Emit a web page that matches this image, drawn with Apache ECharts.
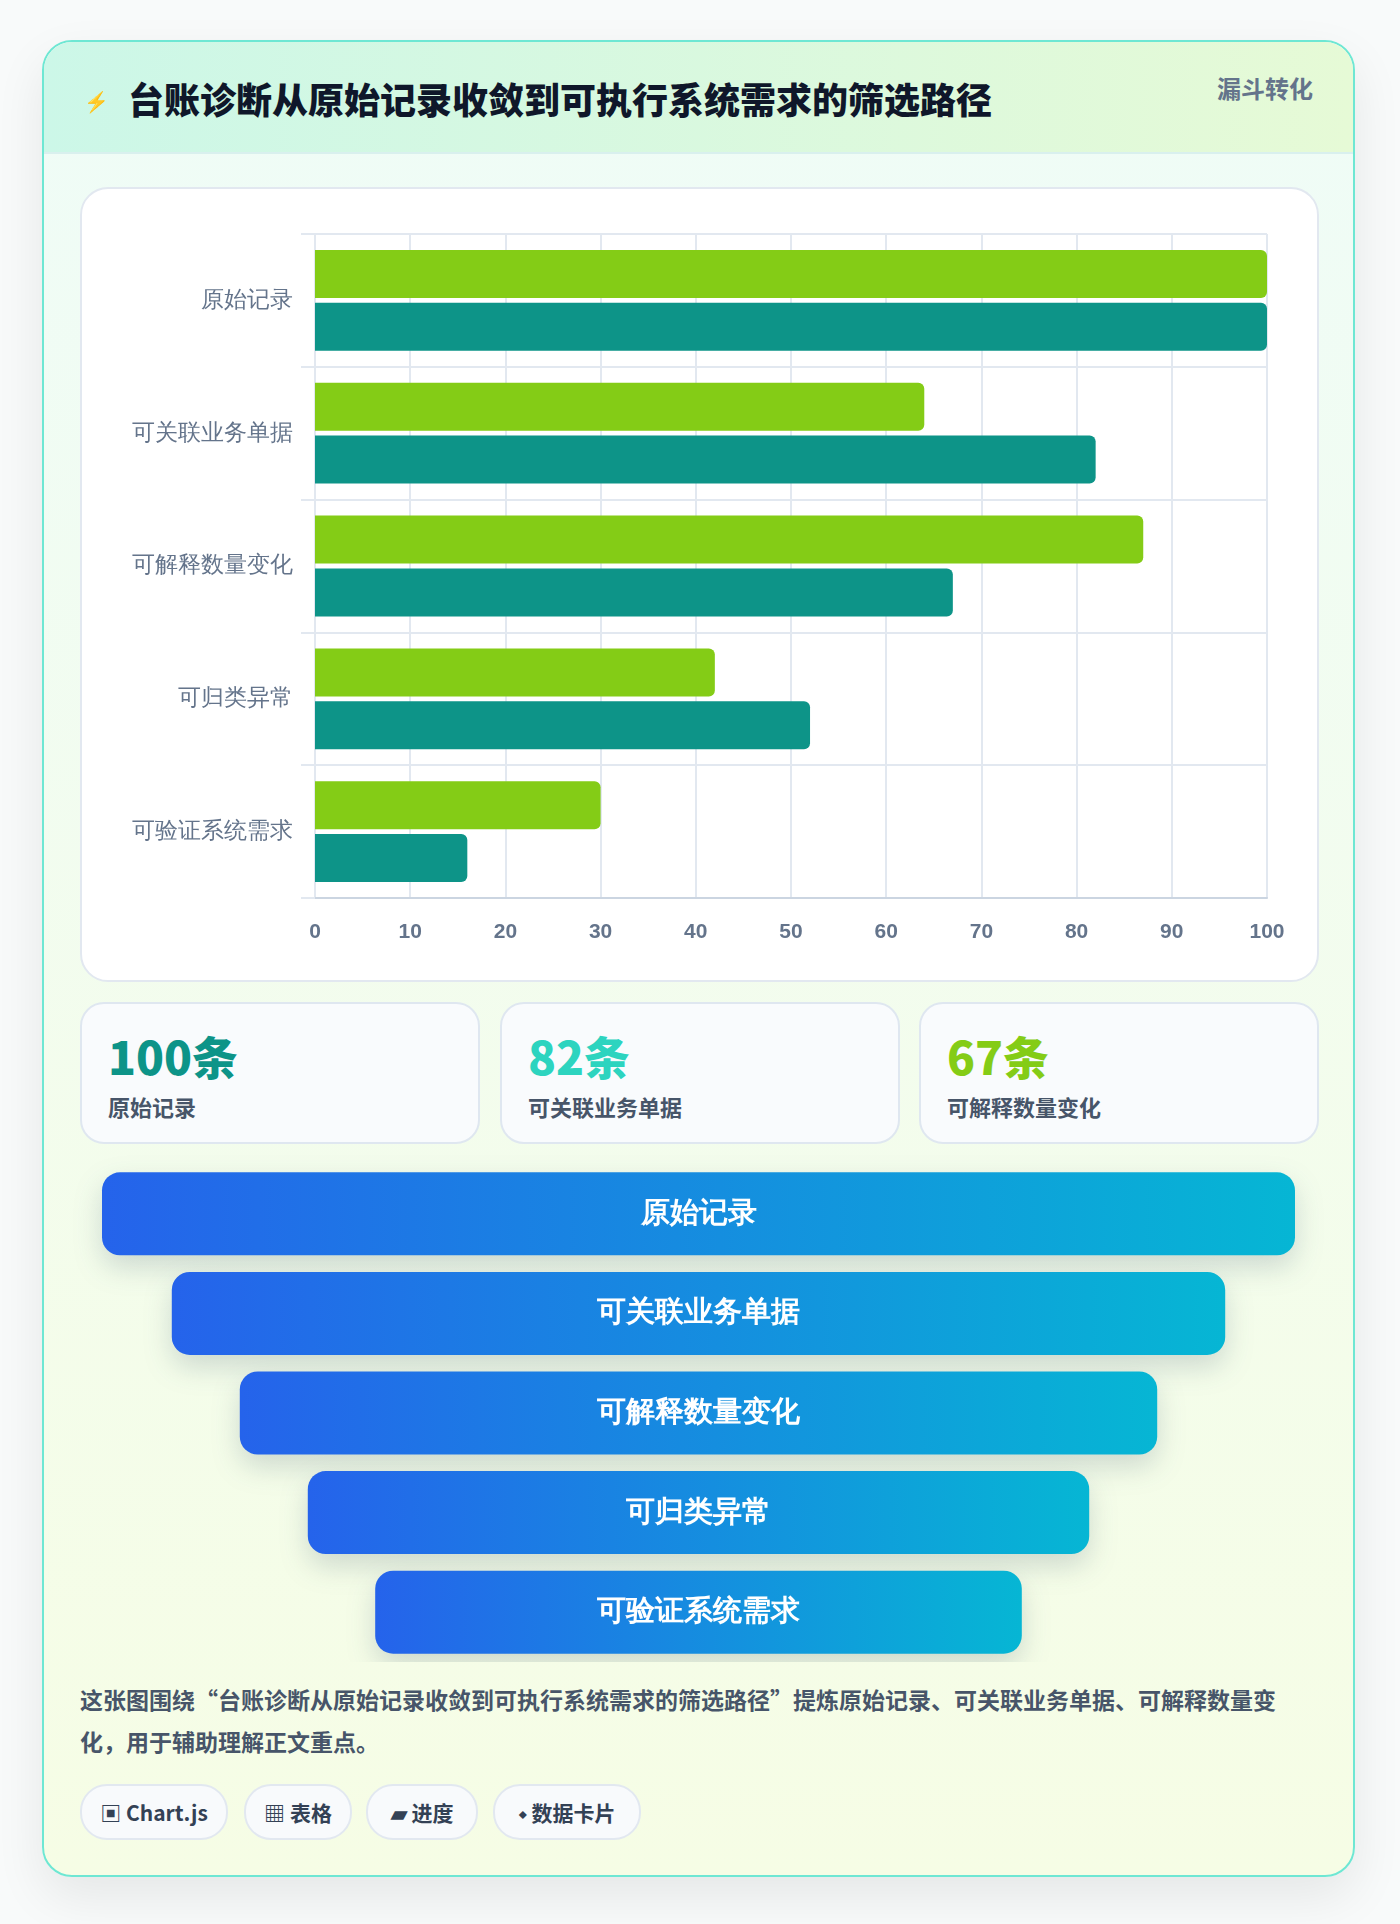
<!DOCTYPE html>
<html><head><meta charset="utf-8">
<script src="https://cdn.jsdelivr.net/npm/echarts@6/dist/echarts.min.js"></script>
<style>
body{margin:0;width:1400px;height:1924px;background:#f8fafa;font-family:"Noto Sans CJK SC","Noto Sans",sans-serif;position:relative}
.card{position:absolute;left:42px;top:40px;width:1309px;height:1833px;border:2px solid #6ee7d3;border-radius:30px;background:linear-gradient(180deg,#effcf7,#f6fde5);box-shadow:0 20px 50px rgba(0,0,0,.08);overflow:hidden}
.head{height:110px;background:linear-gradient(90deg,#ccf7e8,#e6fad6);border-bottom:2px solid #d9f0ee;position:relative}
.head .t{position:absolute;left:84px;top:30px;font-size:36px;font-weight:900;color:#0f172a}
.head .ic{position:absolute;left:40px;top:44px;color:#2563eb;font-size:20px}
.head .r{position:absolute;right:40px;top:28px;font-size:24px;font-weight:700;color:#64748b}
.panel{position:absolute;left:36px;top:145px;width:1235px;height:791px;background:#fff;border:2px solid #e2e8f0;border-radius:28px}
.stat{position:absolute;top:960px;height:138px;width:396px;border:2px solid #dfe7f0;border-radius:24px;background:#f9fbfd}
.stat b{position:absolute;left:26px;top:18px;font-size:46px;font-weight:900}
.stat span{position:absolute;left:26px;top:86px;font-size:22px;font-weight:700;color:#475569}
.desc{position:absolute;left:36px;top:1636px;width:1240px;font-size:23px;line-height:42px;font-weight:700;color:#475569}
.tag{position:absolute;top:1742px;height:52px;border:2px solid #e2e8f0;border-radius:27px;background:#f8fafc;font-size:21px;font-weight:700;color:#334155;line-height:52px;text-align:center}
</style></head><body>
<div class="card">
<div class="head"><span class="ic">⚡</span><div class="t">台账诊断从原始记录收敛到可执行系统需求的筛选路径</div><div class="r">漏斗转化</div></div>
<div class="panel"><div id="c1" style="width:1235px;height:791px"></div></div>
<div class="stat" style="left:36px"><b style="color:#0d9488">100条</b><span>原始记录</span></div>
<div class="stat" style="left:456px"><b style="color:#2dd4bf">82条</b><span>可关联业务单据</span></div>
<div class="stat" style="left:875px"><b style="color:#84cc16">67条</b><span>可解释数量变化</span></div>
<div id="c2" style="position:absolute;left:0;top:1110px;width:1309px;height:510px"></div>
<div class="desc">这张图围绕“台账诊断从原始记录收敛到可执行系统需求的筛选路径”提炼原始记录、可关联业务单据、可解释数量变化，用于辅助理解正文重点。</div>
<div class="tag" style="left:36px;width:144px">▣ Chart.js</div>
<div class="tag" style="left:200px;width:104px">▦ 表格</div>
<div class="tag" style="left:322px;width:108px">▰ 进度</div>
<div class="tag" style="left:449px;width:144px">⬩ 数据卡片</div>
</div>
<script>
var categories = ['原始记录','可关联业务单据','可解释数量变化','可归类异常','可验证系统需求'];
var limeValues = [100, 64, 87, 42, 30];
var tealValues = [100, 82, 67, 52, 16];
var xTicks = [0,10,20,30,40,50,60,70,80,90,100];
var funnelWidths = [100, 88.3, 76.9, 65.5, 54.2];

var c1 = echarts.init(document.getElementById('c1'));
c1.setOption({
  animation:false,
  grid:{left:233,right:50,top:45,bottom:82},
  xAxis:{type:'value',min:0,max:100,interval:10,
    axisLine:{show:true,lineStyle:{color:'#cbd5e1',width:2}},
    axisTick:{show:false},
    axisLabel:{color:'#64748b',fontSize:21,fontWeight:'bold',margin:24},
    splitLine:{lineStyle:{color:'#e2e8f0',width:2}}},
  yAxis:{type:'category',inverse:true,data:categories,
    axisLine:{show:true,lineStyle:{color:'#e2e8f0',width:2}},
    axisTick:{show:true,length:14,lineStyle:{color:'#e2e8f0',width:2}},
    axisLabel:{color:'#64748b',fontSize:23,margin:22},
    splitLine:{show:true,lineStyle:{color:'#e2e8f0',width:2}}},
  series:[
    {type:'bar',data:limeValues,barWidth:48,barGap:'10%',itemStyle:{color:'#84cc16',borderRadius:[0,6,6,0]}},
    {type:'bar',data:tealValues,barWidth:48,itemStyle:{color:'#0d9488',borderRadius:[0,6,6,0]}}
  ]
});

var grad = new echarts.graphic.LinearGradient(0,0,1,0,[{offset:0,color:'#2563eb'},{offset:1,color:'#06b6d4'}]);
var c2 = echarts.init(document.getElementById('c2'));
c2.setOption({
  animation:false,
  grid:{left:58,right:58,top:12,bottom:0},
  xAxis:{type:'value',min:0,max:100,show:false},
  yAxis:{type:'category',inverse:true,data:categories,show:false},
  series:[
    {type:'bar',stack:'f',data:funnelWidths.map(function(w){return (100-w)/2;}),itemStyle:{color:'transparent'},barWidth:83},
    {type:'bar',stack:'f',data:funnelWidths,barWidth:83,
      itemStyle:{color:grad,borderRadius:18,shadowColor:'rgba(30,60,90,0.18)',shadowBlur:28,shadowOffsetY:12},
      label:{show:true,position:'inside',color:'#fff',fontSize:29,fontWeight:'bold',
        formatter:function(p){return categories[p.dataIndex];}}}
  ]
});
</script>
</body></html>
